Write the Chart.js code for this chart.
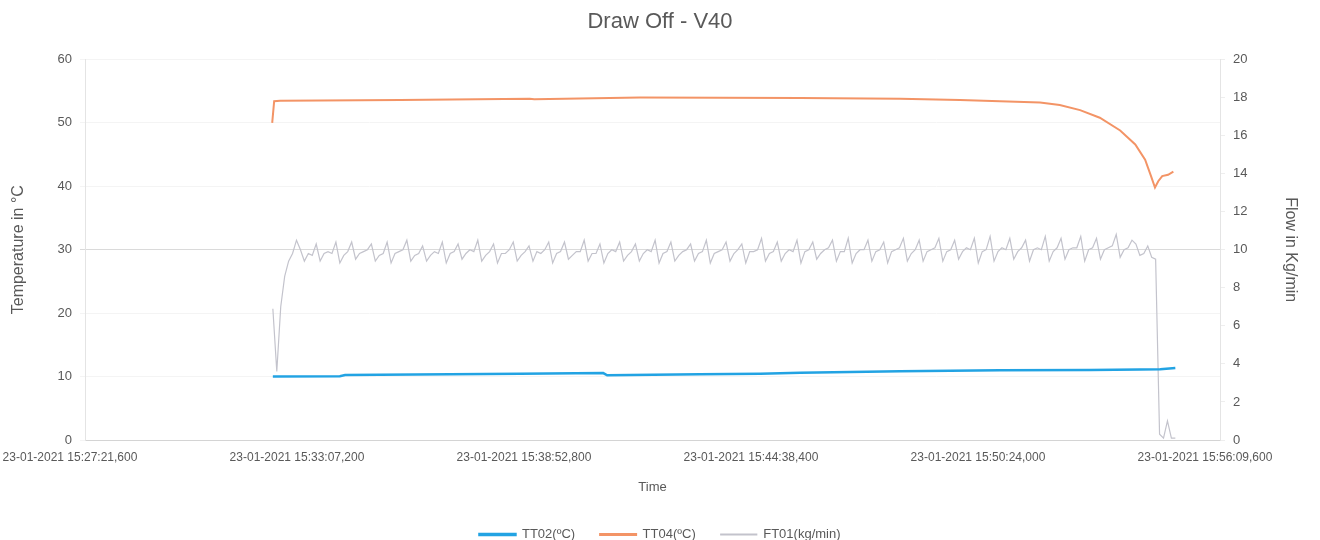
<!DOCTYPE html>
<html>
<head>
<meta charset="utf-8">
<title>Draw Off - V40</title>
<script src="https://cdn.jsdelivr.net/npm/chart.js@4.4.0/dist/chart.umd.min.js"></script>
<style>
  html, body { margin: 0; padding: 0; background: #ffffff; }
  #wrap { width: 1320px; height: 540px; }
</style>
</head>
<body>
<div id="wrap"><canvas id="drawOffChart" width="1320" height="540"></canvas></div>
<script>
// Time is in seconds after 23-01-2021 15:27:21,600 (left end of the axis)
const xTickSecs = [0, 345.6, 691.2, 1036.8, 1382.4, 1728];
const xTickLabels = [
    '23-01-2021 15:27:21,600',
    '23-01-2021 15:33:07,200',
    '23-01-2021 15:38:52,800',
    '23-01-2021 15:44:38,400',
    '23-01-2021 15:50:24,000',
    '23-01-2021 15:56:09,600'
];

// TT02 (blue)
const tt02Secs = [286, 388, 396, 556, 662, 789, 795, 936, 1028, 1089, 1241, 1393, 1530, 1606, 1637, 1660];
const tt02Vals = [10.0, 10.05, 10.25, 10.35, 10.45, 10.55, 10.2, 10.35, 10.45, 10.6, 10.85, 11.0, 11.05, 11.1, 11.15, 11.35];

// TT04 (orange)
const tt04Secs = [285, 288, 297, 480, 677, 684, 845, 1089, 1241, 1332, 1393, 1454, 1484, 1515, 1545, 1576, 1599, 1614, 1623, 1629, 1634, 1640, 1649, 1657];
const tt04Vals = [50.0, 53.4, 53.5, 53.6, 53.8, 53.7, 54.0, 53.9, 53.8, 53.6, 53.4, 53.2, 52.8, 52.0, 50.8, 48.8, 46.6, 44.2, 41.6, 39.8, 40.8, 41.6, 41.8, 42.3];

// FT01 (grey), logged every 6 s from t = 286 s
const ft01Start = 286;
const ft01Step = 6;
const ft01Vals = [
    6.9, 3.6, 7.0, 8.6, 9.4, 9.8,
    10.5, 10.0, 9.4, 9.8, 9.7, 10.3, 9.4, 9.8, 9.9, 9.8, 10.4, 9.3, 9.7, 9.9, 10.4, 9.5, 9.8, 9.9,
    10.0, 10.3, 9.4, 9.7, 9.8, 10.4, 9.3, 9.8, 9.9, 10.0, 10.5, 9.4, 9.7, 9.8, 10.2, 9.4, 9.7, 9.9,
    9.8, 10.4, 9.3, 9.8, 9.9, 10.3, 9.5, 9.8, 10.0, 9.9, 10.5, 9.4, 9.7, 9.9, 10.3, 9.3, 9.8, 9.8,
    10.0, 10.4, 9.4, 9.7, 9.9, 10.2, 9.4, 9.9, 9.8, 10.0, 10.4, 9.3, 9.8, 9.9, 10.4, 9.5, 9.7, 9.9,
    9.9, 10.5, 9.4, 9.8, 9.8, 10.3, 9.3, 9.8, 10.0, 9.9, 10.4, 9.4, 9.7, 9.9, 10.3, 9.4, 9.8, 10.0,
    9.9, 10.5, 9.3, 9.8, 9.9, 10.4, 9.4, 9.7, 9.9, 10.0, 10.3, 9.4, 9.8, 9.9, 10.5, 9.3, 9.8, 9.9,
    10.0, 10.4, 9.4, 9.8, 10.0, 10.3, 9.3, 9.9, 9.9, 10.0, 10.6, 9.4, 9.8, 9.9, 10.4, 9.4, 9.8, 10.0,
    9.9, 10.5, 9.3, 9.9, 10.0, 10.4, 9.5, 9.8, 10.0, 10.1, 10.5, 9.4, 9.9, 9.9, 10.6, 9.3, 9.8, 10.0,
    10.0, 10.5, 9.4, 9.9, 10.0, 10.4, 9.3, 9.9, 10.0, 10.1, 10.6, 9.4, 9.8, 10.0, 10.5, 9.4, 9.9, 10.0,
    10.1, 10.6, 9.4, 9.9, 10.0, 10.5, 9.5, 9.9, 10.1, 10.0, 10.6, 9.3, 9.9, 10.0, 10.7, 9.4, 9.9, 10.1,
    10.0, 10.6, 9.5, 9.9, 10.1, 10.5, 9.4, 10.0, 10.1, 10.0, 10.7, 9.4, 9.9, 10.1, 10.6, 9.5, 10.0, 10.1,
    10.1, 10.7, 9.4, 10.0, 10.1, 10.6, 9.5, 10.0, 10.1, 10.2, 10.8, 9.6, 10.0, 10.1, 10.5, 10.3, 9.7, 9.8,
    10.2, 9.6, 9.5, 0.3, 0.1, 1.0, 0.1, 0.1
];

const textGrey = '#595959';
const fontFamily = '"Liberation Sans", Arial, sans-serif';

function toPoints(secs, vals) {
    return vals.map((v, i) => ({ x: secs[i], y: v }));
}

const ft01Points = ft01Vals.map((v, i) => ({ x: ft01Start + i * ft01Step, y: v }));

const ctx = document.getElementById('drawOffChart').getContext('2d');

const drawOffChart = new Chart(ctx, {
    type: 'line',
    data: {
        datasets: [
            {
                label: 'TT02(ºC)',
                data: toPoints(tt02Secs, tt02Vals),
                borderColor: '#22a3e3',
                backgroundColor: '#22a3e3',
                borderWidth: 2.5,
                yAxisID: 'y',
                order: 1
            },
            {
                label: 'TT04(ºC)',
                data: toPoints(tt04Secs, tt04Vals),
                borderColor: '#f39466',
                backgroundColor: '#f39466',
                borderWidth: 2,
                yAxisID: 'y',
                order: 2
            },
            {
                label: 'FT01(kg/min)',
                data: ft01Points,
                borderColor: '#c3c3cc',
                backgroundColor: '#c3c3cc',
                borderWidth: 1.2,
                yAxisID: 'y1',
                order: 3
            }
        ]
    },
    options: {
        responsive: false,
        animation: false,
        elements: {
            point: { radius: 0 },
            line: { tension: 0 }
        },
        layout: {
            // legend sits lower than chart.js would put it
            padding: { left: 0, right: 0, top: 0, bottom: -11 }
        },
        plugins: {
            title: {
                display: true,
                text: 'Draw Off - V40',
                color: textGrey,
                font: { family: fontFamily, size: 22, weight: 'normal' },
                padding: { top: 9, bottom: 24 }
            },
            legend: {
                position: 'bottom',
                labels: {
                    color: textGrey,
                    font: { family: fontFamily, size: 13 },
                    boxWidth: 36,
                    boxHeight: 1,
                    padding: 25
                }
            },
            tooltip: { enabled: false }
        },
        scales: {
            x: {
                type: 'linear',
                min: 0,
                max: 1728,
                afterBuildTicks: function(scale) {
                    scale.ticks = xTickSecs.map(v => ({ value: v }));
                },
                afterFit: function(scale) {
                    scale.height = 63;
                },
                ticks: {
                    color: textGrey,
                    font: { family: fontFamily, size: 12 },
                    padding: 2,
                    labelOffset: -15,
                    maxRotation: 0,
                    autoSkip: false,
                    callback: function(value) {
                        const i = xTickSecs.indexOf(value);
                        return i >= 0 ? xTickLabels[i] : '';
                    }
                },
                grid: { display: false },
                border: { display: true, color: '#d4d4d4' },
                title: {
                    display: true,
                    text: 'Time',
                    color: textGrey,
                    font: { family: fontFamily, size: 13 },
                    padding: { top: 0, bottom: 8 }
                }
            },
            y: {
                position: 'left',
                min: 0,
                max: 60,
                afterFit: function(scale) {
                    scale.width = 85;
                },
                ticks: {
                    stepSize: 10,
                    color: textGrey,
                    font: { family: fontFamily, size: 13 },
                    padding: 8
                },
                grid: {
                    tickLength: 5,
                    color: function(c) {
                        return c.tick && c.tick.value === 30 ? '#dadada' : '#f4f4f4';
                    }
                },
                border: { display: true, color: '#e4e4e4' },
                title: {
                    display: true,
                    text: 'Temperature in °C',
                    color: textGrey,
                    font: { family: fontFamily, size: 16 },
                    padding: { top: 9, bottom: 0 }
                }
            },
            y1: {
                position: 'right',
                min: 0,
                max: 20,
                afterFit: function(scale) {
                    scale.width = 100;
                },
                ticks: {
                    stepSize: 2,
                    color: textGrey,
                    font: { family: fontFamily, size: 13 },
                    padding: 8
                },
                grid: {
                    drawOnChartArea: false,
                    tickLength: 5,
                    color: '#eeeeee'
                },
                border: { display: true, color: '#e4e4e4' },
                title: {
                    display: true,
                    text: 'Flow in Kg/min',
                    color: textGrey,
                    font: { family: fontFamily, size: 16 },
                    padding: { top: 20, bottom: 0 }
                }
            }
        }
    }
});
</script>
</body>
</html>
